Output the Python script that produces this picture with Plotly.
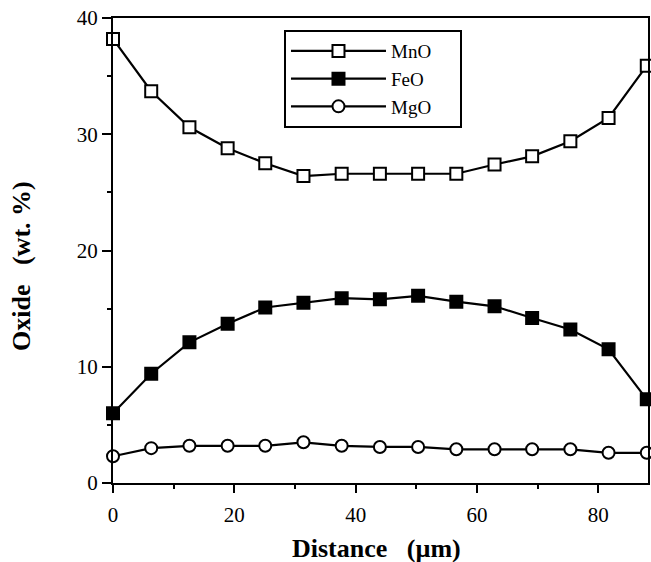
import plotly.graph_objects as go

distance = [0, 6.3, 12.6, 18.9, 25.1, 31.4, 37.7, 44.0, 50.3, 56.6, 62.9, 69.1, 75.4, 81.7, 88.0]
mno = [38.2, 33.7, 30.6, 28.8, 27.5, 26.4, 26.6, 26.6, 26.6, 26.6, 27.4, 28.1, 29.4, 31.4, 35.9]
feo = [6.0, 9.4, 12.1, 13.7, 15.1, 15.5, 15.9, 15.8, 16.1, 15.6, 15.2, 14.2, 13.2, 11.5, 7.2]
mgo = [2.3, 3.0, 3.2, 3.2, 3.2, 3.5, 3.2, 3.1, 3.1, 2.9, 2.9, 2.9, 2.9, 2.6, 2.6]

x_ticks = [0, 20, 40, 60, 80]
y_ticks = [0, 10, 20, 30, 40]

FONT = "Liberation Serif, Times New Roman, serif"
NB = "\u00a0"

fig = go.Figure()
series = [
    ("MnO", mno, "square", "white"),
    ("FeO", feo, "square", "black"),
    ("MgO", mgo, "circle", "white"),
]
for name, vals, sym, fill in series:
    fig.add_trace(go.Scatter(
        x=distance, y=vals, name=name + NB * 5, mode="lines+markers",
        line=dict(color="black", width=2.2),
        marker=dict(symbol=sym, size=12, color=fill, line=dict(color="black", width=2)),
        cliponaxis=False,
    ))

fig.update_layout(
    width=651, height=562,
    margin=dict(l=113, r=3, t=18, b=79, autoexpand=False),
    paper_bgcolor="white", plot_bgcolor="white",
    font=dict(family=FONT, size=21, color="black"),
    showlegend=True,
    legend=dict(
        x=0.3196, y=0.974, xanchor="left", yanchor="top",
        bordercolor="black", borderwidth=2, bgcolor="white",
        font=dict(family=FONT, size=19, color="black"),
        itemwidth=95, tracegroupgap=0,
    ),
    xaxis=dict(
        range=[0, 88.2], tickvals=x_ticks, ticktext=[str(v) for v in x_ticks],
        ticks="outside", ticklen=8, tickwidth=2, tickcolor="black",
        ticklabelstandoff=4, ticklabeloverflow="allow",
        minor=dict(dtick=10, tick0=0, ticks="outside", ticklen=4, tickwidth=2, tickcolor="black"),
        showline=True, linecolor="black", linewidth=2, mirror=True,
        showgrid=False, zeroline=False, automargin=False,
    ),
    yaxis=dict(
        range=[0, 40], tickvals=y_ticks, ticktext=[str(v) for v in y_ticks],
        ticks="outside", ticklen=9, tickwidth=2, tickcolor="black",
        ticklabeloverflow="allow",
        minor=dict(dtick=5, tick0=0, ticks="outside", ticklen=4, tickwidth=2, tickcolor="black"),
        showline=True, linecolor="black", linewidth=2, mirror=True,
        showgrid=False, zeroline=False, automargin=False,
    ),
    annotations=[
        dict(text="<b>Distance" + NB * 3 + "(\u00b5m)</b>", xref="paper", yref="paper",
             x=0.4925, y=-0.1398, xanchor="center", yanchor="middle", showarrow=False,
             font=dict(family=FONT, size=26, color="black")),
        dict(text="<b>Oxide" + NB * 3 + "(wt." + NB + "%)</b>", xref="paper", yref="paper",
             x=0, y=0.4667, xshift=-91, xanchor="center", yanchor="middle", showarrow=False,
             textangle=-90, font=dict(family=FONT, size=26, color="black")),
    ],
)

fig.write_html("out.html", config={"displayModeBar": False},
               post_script="document.body.style.margin='0px';")
